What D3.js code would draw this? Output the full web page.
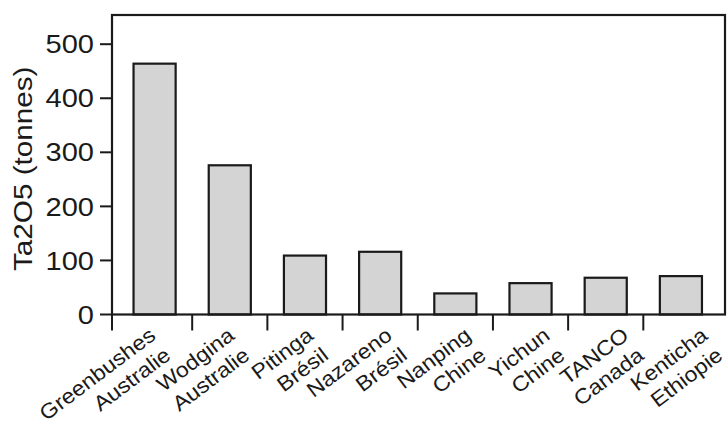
<!DOCTYPE html>
<html>
<head>
<meta charset="utf-8">
<script src="https://cdn.jsdelivr.net/npm/d3@7"></script>
<style>
  html, body { margin: 0; padding: 0; background: #fff; }
  svg { display: block; font-family: "Liberation Sans", Arial, sans-serif; }
</style>
</head>
<body>
<svg id="chart" width="727" height="424"></svg>
<script>
// ---- data ----
const mines = ["Greenbushes", "Wodgina", "Pitinga", "Nazareno", "Nanping", "Yichun", "TANCO", "Kenticha"];
const countries = ["Australie", "Australie", "Brésil", "Brésil", "Chine", "Chine", "Canada", "Ethiopie"];
const values = [464, 276, 109, 116, 39, 58, 68, 71];
const yTicks = [0, 100, 200, 300, 400, 500];
const yTitle = "Ta2O5 (tonnes)";

// ---- layout ----
const svg = d3.select("#chart");
const pLeft = 112, pRight = 725, pTop = 15, pBottom = 314.5;
const ink = "#1a1a1a";

const x = d3.scaleBand()
  .domain(mines)
  .range([117, 718.5])
  .paddingInner(0.44)
  .paddingOuter(0.22);

// label anchor positions (end of the rotated labels)
const xLab = d3.scalePoint().domain(mines).range([157, 709]);

const y = d3.scaleLinear().domain([0, 554]).range([pBottom, pTop]);

// bars
svg.append("g").selectAll("rect")
  .data(mines)
  .join("rect")
  .attr("x", d => x(d))
  .attr("y", (d, i) => y(values[i]))
  .attr("width", x.bandwidth())
  .attr("height", (d, i) => y(0) - y(values[i]))
  .attr("fill", "#d4d4d4")
  .attr("stroke", ink)
  .attr("stroke-width", 2.2);

// frame
svg.append("rect")
  .attr("x", pLeft).attr("y", pTop)
  .attr("width", pRight - pLeft).attr("height", pBottom - pTop)
  .attr("fill", "none").attr("stroke", ink).attr("stroke-width", 2.2);

// y axis ticks
const yAxis = svg.append("g");
yAxis.selectAll("line")
  .data(yTicks)
  .join("line")
  .attr("x1", pLeft - 12).attr("x2", pLeft)
  .attr("y1", d => y(d)).attr("y2", d => y(d))
  .attr("stroke", ink).attr("stroke-width", 2);
yAxis.selectAll("text")
  .data(yTicks)
  .join("text")
  .attr("transform", d => `translate(${pLeft - 18},${y(d)}) scale(1.14,1)`)
  .attr("dy", "0.36em")
  .attr("text-anchor", "end")
  .attr("font-size", 25.5)
  .attr("fill", ink)
  .text(d => d);

// y title
svg.append("text")
  .attr("transform", `translate(32,${(pTop + pBottom) / 2 + 4}) rotate(-90) scale(1.12,1)`)
  .attr("text-anchor", "middle")
  .attr("font-size", 26.5)
  .attr("fill", ink)
  .text(yTitle);

// x ticks at band boundaries + extension of left axis
const step = x.step();
const boundaries = mines.slice(1).map(d => x(d) - (step - x.bandwidth()) / 2);
svg.append("g").selectAll("line")
  .data([pLeft].concat(boundaries))
  .join("line")
  .attr("x1", d => d).attr("x2", d => d)
  .attr("y1", pBottom).attr("y2", pBottom + 16)
  .attr("stroke", ink).attr("stroke-width", 2);

// x labels (two lines, rotated)
const lab = svg.append("g").selectAll("g")
  .data(mines)
  .join("g")
  .attr("transform", d => `translate(${xLab(d)},338) rotate(-37)`);
lab.append("text")
  .attr("transform", "scale(1.1,1)")
  .attr("text-anchor", "end")
  .attr("font-size", 21)
  .attr("fill", ink)
  .text(d => d);
lab.append("text")
  .attr("transform", "translate(0,25) scale(1.1,1)")
  .attr("text-anchor", "end")
  .attr("font-size", 21)
  .attr("fill", ink)
  .text((d, i) => countries[i]);
</script>
</body>
</html>
